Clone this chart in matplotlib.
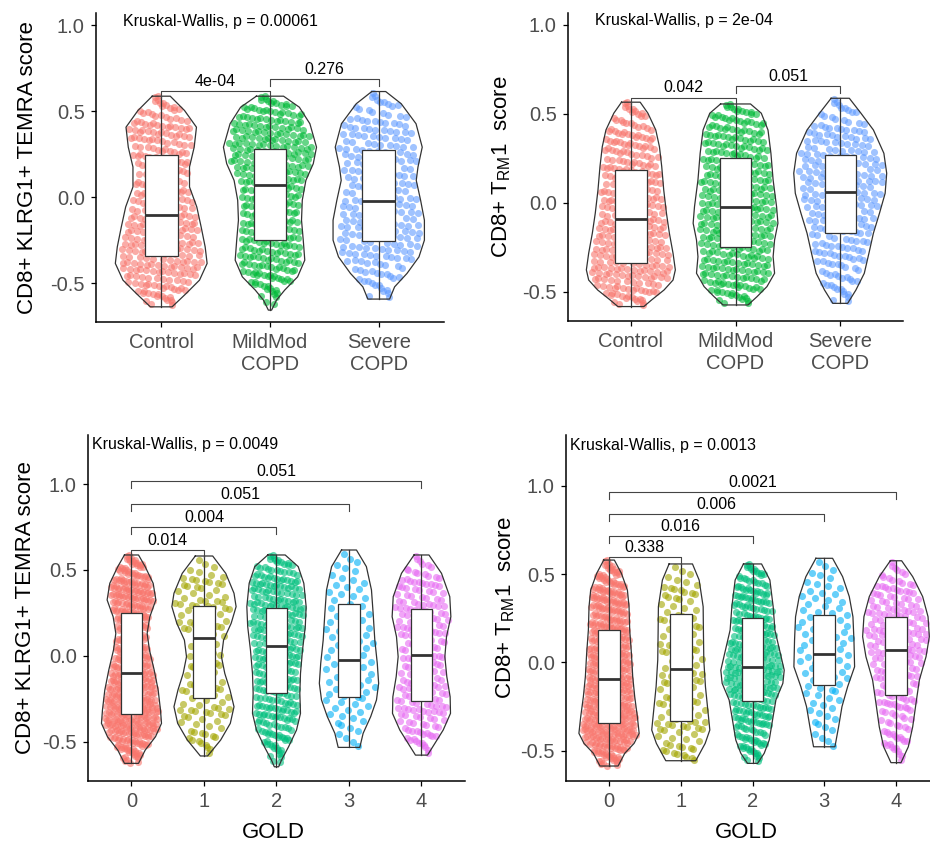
import numpy as np
import matplotlib.pyplot as plt

plt.rcParams['font.family'] = ['Liberation Sans', 'DejaVu Sans']
plt.rcParams['mathtext.default'] = 'regular'

copd_groups = ['Control', 'MildMod\nCOPD', 'Severe\nCOPD']
gold_groups = ['0', '1', '2', '3', '4']
copd_colors = ['#F8766D', '#00BA38', '#619CFF']
gold_colors = ['#F8766D', '#A3A500', '#00BF7D', '#00B0F6', '#E76BF3']

# violin outlines: score (top -> bottom) and half width
temra_copd_y = [
    [0.587, 0.504, 0.407, 0.291, 0.176, 0.06, -0.056, -0.172, -0.288, -0.384, -0.481, -0.558, -0.636],
    [0.587, 0.523, 0.427, 0.291, 0.195, 0.098, -0.017, -0.133, -0.249, -0.365, -0.462, -0.539, -0.597, -0.655],
    [0.614, 0.543, 0.427, 0.291, 0.176, 0.098, -0.017, -0.133, -0.249, -0.346, -0.442, -0.52, -0.591],
]
temra_copd_w = [
    [0.083, 0.214, 0.324, 0.303, 0.26, 0.26, 0.327, 0.367, 0.404, 0.422, 0.352, 0.23, 0.1],
    [0.125, 0.27, 0.367, 0.428, 0.398, 0.33, 0.297, 0.29, 0.306, 0.32, 0.254, 0.135, 0.06, 0.015],
    [0.064, 0.207, 0.343, 0.4, 0.361, 0.345, 0.385, 0.42, 0.42, 0.37, 0.26, 0.146, 0.1],
]
temra_copd_q3 = [0.243, 0.278, 0.276]
temra_copd_med = [-0.103, 0.071, -0.024]
temra_copd_q1 = [-0.343, -0.248, -0.256]
temra_copd_n = [330, 360, 250]
temra_copd_pairs = [(1, 2), (2, 3)]
temra_copd_pos = [0.616, 0.686]
temra_copd_p = ['4e-04', '0.276']

trm_copd_y = [
    [0.566, 0.504, 0.41, 0.316, 0.204, 0.073, -0.058, -0.17, -0.283, -0.376, -0.433, -0.489, -0.545, -0.582],
    [0.556, 0.504, 0.41, 0.279, 0.129, -0.021, -0.114, -0.208, -0.302, -0.395, -0.47, -0.526, -0.573],
    [0.588, 0.504, 0.41, 0.279, 0.167, 0.054, -0.058, -0.17, -0.283, -0.395, -0.489, -0.564],
]
trm_copd_w = [
    [0.089, 0.163, 0.238, 0.273, 0.295, 0.314, 0.34, 0.368, 0.403, 0.425, 0.403, 0.317, 0.198, 0.124],
    [0.143, 0.246, 0.31, 0.338, 0.359, 0.392, 0.405, 0.373, 0.359, 0.373, 0.3, 0.206, 0.119],
    [0.087, 0.198, 0.317, 0.417, 0.444, 0.429, 0.375, 0.317, 0.274, 0.23, 0.15, 0.071],
]
trm_copd_q3 = [0.184, 0.255, 0.268]
trm_copd_med = [-0.092, -0.024, 0.064]
trm_copd_q1 = [-0.337, -0.247, -0.17]
trm_copd_n = [330, 360, 250]
trm_copd_pairs = [(1, 2), (2, 3)]
trm_copd_pos = [0.592, 0.657]
trm_copd_p = ['0.042', '0.051']

temra_gold_y = [
    [0.587, 0.519, 0.422, 0.325, 0.227, 0.13, 0.033, -0.083, -0.2, -0.316, -0.394, -0.472, -0.55, -0.627],
    [0.581, 0.48, 0.364, 0.286, 0.189, 0.091, -0.006, -0.103, -0.2, -0.297, -0.394, -0.491, -0.584],
    [0.587, 0.519, 0.422, 0.286, 0.169, 0.033, -0.103, -0.219, -0.336, -0.433, -0.53, -0.608, -0.647],
    [0.616, 0.519, 0.383, 0.247, 0.091, -0.044, -0.161, -0.258, -0.355, -0.452, -0.534],
    [0.587, 0.48, 0.344, 0.227, 0.111, -0.006, -0.122, -0.239, -0.336, -0.433, -0.511, -0.579],
]
temra_gold_w = [
    [0.097, 0.189, 0.299, 0.336, 0.253, 0.216, 0.248, 0.313, 0.368, 0.4, 0.414, 0.331, 0.189, 0.097],
    [0.12, 0.3, 0.414, 0.443, 0.375, 0.27, 0.241, 0.287, 0.359, 0.414, 0.363, 0.23, 0.05],
    [0.12, 0.3, 0.377, 0.409, 0.397, 0.359, 0.331, 0.322, 0.331, 0.276, 0.167, 0.069, 0.03],
    [0.103, 0.24, 0.31, 0.333, 0.356, 0.39, 0.409, 0.379, 0.299, 0.195, 0.149],
    [0.103, 0.276, 0.39, 0.405, 0.345, 0.322, 0.349, 0.395, 0.4, 0.299, 0.184, 0.083],
]
temra_gold_q3 = [0.247, 0.29, 0.276, 0.3, 0.274]
temra_gold_med = [-0.099, 0.105, 0.058, -0.023, 0.004]
temra_gold_q1 = [-0.34, -0.248, -0.216, -0.239, -0.262]
temra_gold_n = [520, 130, 330, 90, 210]
temra_gold_pairs = [(1, 2), (1, 3), (1, 4), (1, 5)]
temra_gold_pos = [0.618, 0.748, 0.882, 1.018]
temra_gold_p = ['0.014', '0.004', '0.051', '0.051']

trm_gold_y = [
    [0.579, 0.504, 0.409, 0.315, 0.183, 0.051, -0.081, -0.195, -0.308, -0.402, -0.459, -0.515, -0.587],
    [0.557, 0.466, 0.315, 0.164, 0.013, -0.138, -0.27, -0.383, -0.459, -0.557],
    [0.557, 0.466, 0.315, 0.183, 0.07, -0.044, -0.119, -0.213, -0.327, -0.44, -0.515, -0.572],
    [0.589, 0.485, 0.372, 0.258, 0.126, -0.025, -0.138, -0.251, -0.365, -0.478],
    [0.575, 0.485, 0.372, 0.258, 0.145, 0.032, -0.1, -0.232, -0.365, -0.478, -0.568],
]
trm_gold_w = [
    [0.074, 0.172, 0.256, 0.279, 0.288, 0.312, 0.33, 0.358, 0.395, 0.42, 0.349, 0.219, 0.126],
    [0.163, 0.256, 0.312, 0.316, 0.321, 0.344, 0.377, 0.405, 0.34, 0.209],
    [0.126, 0.242, 0.288, 0.312, 0.377, 0.442, 0.423, 0.326, 0.279, 0.233, 0.163, 0.07],
    [0.116, 0.256, 0.349, 0.4, 0.414, 0.423, 0.326, 0.247, 0.2, 0.149],
    [0.079, 0.233, 0.372, 0.447, 0.465, 0.419, 0.326, 0.279, 0.233, 0.172, 0.07],
]
trm_gold_q3 = [0.181, 0.272, 0.253, 0.27, 0.258]
trm_gold_med = [-0.096, -0.036, -0.025, 0.047, 0.07]
trm_gold_q1 = [-0.342, -0.334, -0.217, -0.127, -0.185]
trm_gold_n = [520, 130, 330, 90, 210]
trm_gold_pairs = [(1, 2), (1, 3), (1, 4), (1, 5)]
trm_gold_pos = [0.595, 0.715, 0.838, 0.966]
trm_gold_p = ['0.338', '0.016', '0.006', '0.0021']

line_col = '#333333'


def spread(ys, ws, n):
    # place n dots along the violin density, spread sideways inside it
    ya = np.array(ys[::-1])
    wa = np.array(ws[::-1])
    grid = np.linspace(ya[0], ya[-1], 600)
    dens = np.interp(grid, ya, wa)
    cdf = np.cumsum(dens)
    cdf = (cdf - cdf[0]) / (cdf[-1] - cdf[0])
    k = np.arange(n)
    v = (0.5 + k * 0.5698402910) % 1.0
    u = ((0.5 + k * 0.7548776662) % 1.0) * 2 - 1
    yp = np.interp(v, cdf, grid)
    xp = u * np.interp(yp, ya, wa) * 0.92
    return xp, yp


def draw_panel(ax, groups, colors, ys, ws, q1, med, q3, n, pairs, pos, pvals, ylim):
    for i in range(len(groups)):
        c = i + 1
        y = np.array(ys[i])
        w = np.array(ws[i])
        xs = np.concatenate([c - w, (c + w)[::-1], [c - w[0]]])
        yy = np.concatenate([y, y[::-1], [y[0]]])
        ax.plot(xs, yy, color=line_col, lw=0.9, zorder=3)
        xp, yp = spread(ys[i], ws[i], n[i])
        ax.scatter(c + xp, yp, s=26, color=colors[i], alpha=0.6, linewidths=0, zorder=2)
        ax.plot([c, c], [q3[i], y[0]], color=line_col, lw=0.9, zorder=3)
        ax.plot([c, c], [q1[i], y[-1]], color=line_col, lw=0.9, zorder=3)
        ax.add_patch(plt.Rectangle((c - 0.15, q1[i]), 0.3, q3[i] - q1[i], facecolor='white',
                                   edgecolor=line_col, lw=0.9, zorder=4))
        ax.plot([c - 0.15, c + 0.15], [med[i], med[i]], color=line_col, lw=2.0, zorder=5,
                solid_capstyle='butt')
    for (a, b), yb, p in zip(pairs, pos, pvals):
        tip = 0.04
        ax.plot([a, a, b, b], [yb - tip, yb, yb, yb - tip], color='#444444', lw=0.8, zorder=6)
        ax.text((a + b) / 2, yb + 0.012, p, ha='center', va='bottom', fontsize=11.5, zorder=7)
    ax.set_xlim(0.4, len(groups) + 0.6)
    ax.set_ylim(*ylim)
    ax.set_xticks(range(1, len(groups) + 1))
    ax.set_xticklabels(groups, linespacing=1.2)
    ax.set_yticks([-0.5, 0.0, 0.5, 1.0])
    ax.set_yticklabels(['-0.5', '0.0', '0.5', '1.0'])
    for s in ['top', 'right']:
        ax.spines[s].set_visible(False)
    for s in ['left', 'bottom']:
        ax.spines[s].set_linewidth(1.1)
    ax.tick_params(axis='both', length=3.6, width=0.9, labelsize=14.5, labelcolor='#4D4D4D', pad=4.5)


fig = plt.figure(figsize=(9.3, 8.44), dpi=100)

ax1 = fig.add_axes([0.1032, 0.6185, 0.3742, 0.3661])
draw_panel(ax1, copd_groups, copd_colors, temra_copd_y, temra_copd_w, temra_copd_q1, temra_copd_med,
           temra_copd_q3, temra_copd_n, temra_copd_pairs, temra_copd_pos, temra_copd_p, (-0.724, 1.07))
ax1.text(0.649, 1.021, 'Kruskal-Wallis, p = 0.00061', ha='left', va='center', fontsize=11.5)
ax1.set_ylabel('CD8+ KLRG1+ TEMRA score', fontsize=16)
ax1.yaxis.set_label_coords(-0.168, 0.5)

ax2 = fig.add_axes([0.6108, 0.6197, 0.3602, 0.3649])
draw_panel(ax2, copd_groups, copd_colors, trm_copd_y, trm_copd_w, trm_copd_q1, trm_copd_med,
           trm_copd_q3, trm_copd_n, trm_copd_pairs, trm_copd_pos, trm_copd_p, (-0.663, 1.067))
ax2.text(0.657, 1.024, 'Kruskal-Wallis, p = 2e-04', ha='left', va='center', fontsize=11.5)
ax2.set_ylabel(r'CD8+ T$_{RM}$1  score', fontsize=16)
ax2.yaxis.set_label_coords(-0.164, 0.5)

ax3 = fig.add_axes([0.0946, 0.0746, 0.4054, 0.41])
draw_panel(ax3, gold_groups, gold_colors, temra_gold_y, temra_gold_w, temra_gold_q1, temra_gold_med,
           temra_gold_q3, temra_gold_n, temra_gold_pairs, temra_gold_pos, temra_gold_p, (-0.73, 1.286))
ax3.text(0.458, 1.228, 'Kruskal-Wallis, p = 0.0049', ha='left', va='center', fontsize=11.5)
ax3.set_ylabel('CD8+ KLRG1+ TEMRA score', fontsize=16)
ax3.yaxis.set_label_coords(-0.138, 0.5)
ax3.set_xlabel('GOLD', fontsize=16)
ax3.xaxis.set_label_coords(0.4915, -0.1185)

ax4 = fig.add_axes([0.6086, 0.0746, 0.4011, 0.41])
draw_panel(ax4, gold_groups, gold_colors, trm_gold_y, trm_gold_w, trm_gold_q1, trm_gold_med,
           trm_gold_q3, trm_gold_n, trm_gold_pairs, trm_gold_pos, trm_gold_p, (-0.672, 1.287))
ax4.text(0.456, 1.23, 'Kruskal-Wallis, p = 0.0013', ha='left', va='center', fontsize=11.5)
ax4.set_ylabel(r'CD8+ T$_{RM}$1  score', fontsize=16)
ax4.yaxis.set_label_coords(-0.131, 0.5)
ax4.set_xlabel('GOLD', fontsize=16)
ax4.xaxis.set_label_coords(0.4826, -0.1185)

fig.savefig('out.png', dpi=100)
